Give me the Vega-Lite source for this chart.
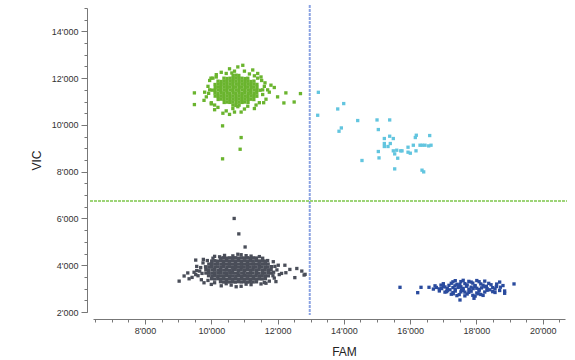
{
"$schema": "https://vega.github.io/schema/vega-lite/v6.json",
"width": 472, "height": 304,
"autosize": {"type": "none"},
"padding": {"left": 93, "top": 8, "right": 10, "bottom": 48},
"background": "white",
"config": {"view": {"stroke": null}, "axis": {"labelFont": "Liberation Sans", "titleFont": "Liberation Sans", "grid": false}},
"datasets": {
"famcut": [{"FAM": 12970}],
"viccut": [{"VIC": 6750}],
"drops": [
{"FAM":9835,"VIC":3812,"cl":"neg"},{"FAM":9915,"VIC":3789,"cl":"neg"},{"FAM":10018,"VIC":3805,"cl":"neg"},{"FAM":10094,"VIC":3818,"cl":"neg"},{"FAM":10197,"VIC":3786,"cl":"neg"},{"FAM":10276,"VIC":3809,"cl":"neg"},{"FAM":10374,"VIC":3792,"cl":"neg"},{"FAM":10455,"VIC":3815,"cl":"neg"},{"FAM":10553,"VIC":3784,"cl":"neg"},{"FAM":10646,"VIC":3806,"cl":"neg"},{"FAM":10724,"VIC":3821,"cl":"neg"},{"FAM":10826,"VIC":3790,"cl":"neg"},{"FAM":10905,"VIC":3811,"cl":"neg"},{"FAM":11006,"VIC":3783,"cl":"neg"},{"FAM":11087,"VIC":3816,"cl":"neg"},{"FAM":11184,"VIC":3794,"cl":"neg"},{"FAM":11266,"VIC":3813,"cl":"neg"},{"FAM":11364,"VIC":3787,"cl":"neg"},{"FAM":11446,"VIC":3819,"cl":"neg"},{"FAM":11545,"VIC":3791,"cl":"neg"},{"FAM":11627,"VIC":3810,"cl":"neg"},{"FAM":11725,"VIC":3785,"cl":"neg"},{"FAM":11806,"VIC":3814,"cl":"neg"},
{"FAM":9826,"VIC":3935,"cl":"neg"},{"FAM":9924,"VIC":3917,"cl":"neg"},{"FAM":10006,"VIC":3941,"cl":"neg"},{"FAM":10105,"VIC":3922,"cl":"neg"},{"FAM":10186,"VIC":3933,"cl":"neg"},{"FAM":10285,"VIC":3914,"cl":"neg"},{"FAM":10365,"VIC":3940,"cl":"neg"},{"FAM":10466,"VIC":3925,"cl":"neg"},{"FAM":10545,"VIC":3936,"cl":"neg"},{"FAM":10637,"VIC":3919,"cl":"neg"},{"FAM":10735,"VIC":3942,"cl":"neg"},{"FAM":10816,"VIC":3921,"cl":"neg"},{"FAM":10915,"VIC":3937,"cl":"neg"},{"FAM":10995,"VIC":3916,"cl":"neg"},{"FAM":11096,"VIC":3939,"cl":"neg"},{"FAM":11175,"VIC":3923,"cl":"neg"},{"FAM":11275,"VIC":3934,"cl":"neg"},{"FAM":11355,"VIC":3918,"cl":"neg"},{"FAM":11456,"VIC":3941,"cl":"neg"},{"FAM":11535,"VIC":3926,"cl":"neg"},{"FAM":11636,"VIC":3931,"cl":"neg"},{"FAM":11714,"VIC":3915,"cl":"neg"},{"FAM":11815,"VIC":3938,"cl":"neg"},
{"FAM":9837,"VIC":3665,"cl":"neg"},{"FAM":9917,"VIC":3684,"cl":"neg"},{"FAM":10014,"VIC":3661,"cl":"neg"},{"FAM":10096,"VIC":3679,"cl":"neg"},{"FAM":10195,"VIC":3666,"cl":"neg"},{"FAM":10274,"VIC":3683,"cl":"neg"},{"FAM":10376,"VIC":3660,"cl":"neg"},{"FAM":10457,"VIC":3677,"cl":"neg"},{"FAM":10555,"VIC":3664,"cl":"neg"},{"FAM":10635,"VIC":3686,"cl":"neg"},{"FAM":10733,"VIC":3663,"cl":"neg"},{"FAM":10814,"VIC":3680,"cl":"neg"},{"FAM":10917,"VIC":3667,"cl":"neg"},{"FAM":10993,"VIC":3685,"cl":"neg"},{"FAM":11094,"VIC":3662,"cl":"neg"},{"FAM":11186,"VIC":3678,"cl":"neg"},{"FAM":11264,"VIC":3669,"cl":"neg"},{"FAM":11366,"VIC":3684,"cl":"neg"},{"FAM":11444,"VIC":3661,"cl":"neg"},{"FAM":11547,"VIC":3676,"cl":"neg"},{"FAM":11625,"VIC":3668,"cl":"neg"},{"FAM":11727,"VIC":3682,"cl":"neg"},{"FAM":11808,"VIC":3665,"cl":"neg"},
{"FAM":9925,"VIC":4049,"cl":"neg"},{"FAM":10011,"VIC":4066,"cl":"neg"},{"FAM":10104,"VIC":4051,"cl":"neg"},{"FAM":10188,"VIC":4063,"cl":"neg"},{"FAM":10286,"VIC":4045,"cl":"neg"},{"FAM":10367,"VIC":4068,"cl":"neg"},{"FAM":10464,"VIC":4052,"cl":"neg"},{"FAM":10547,"VIC":4061,"cl":"neg"},{"FAM":10645,"VIC":4047,"cl":"neg"},{"FAM":10728,"VIC":4067,"cl":"neg"},{"FAM":10825,"VIC":4050,"cl":"neg"},{"FAM":10908,"VIC":4064,"cl":"neg"},{"FAM":11003,"VIC":4046,"cl":"neg"},{"FAM":11089,"VIC":4069,"cl":"neg"},{"FAM":11183,"VIC":4053,"cl":"neg"},{"FAM":11268,"VIC":4060,"cl":"neg"},{"FAM":11362,"VIC":4048,"cl":"neg"},{"FAM":11448,"VIC":4065,"cl":"neg"},{"FAM":11542,"VIC":4054,"cl":"neg"},{"FAM":11634,"VIC":4062,"cl":"neg"},{"FAM":11716,"VIC":4049,"cl":"neg"},
{"FAM":9916,"VIC":3551,"cl":"neg"},{"FAM":10015,"VIC":3536,"cl":"neg"},{"FAM":10098,"VIC":3555,"cl":"neg"},{"FAM":10193,"VIC":3539,"cl":"neg"},{"FAM":10278,"VIC":3549,"cl":"neg"},{"FAM":10373,"VIC":3533,"cl":"neg"},{"FAM":10456,"VIC":3556,"cl":"neg"},{"FAM":10552,"VIC":3540,"cl":"neg"},{"FAM":10639,"VIC":3548,"cl":"neg"},{"FAM":10736,"VIC":3535,"cl":"neg"},{"FAM":10818,"VIC":3553,"cl":"neg"},{"FAM":10912,"VIC":3538,"cl":"neg"},{"FAM":10997,"VIC":3557,"cl":"neg"},{"FAM":11092,"VIC":3541,"cl":"neg"},{"FAM":11178,"VIC":3550,"cl":"neg"},{"FAM":11274,"VIC":3534,"cl":"neg"},{"FAM":11357,"VIC":3554,"cl":"neg"},{"FAM":11452,"VIC":3537,"cl":"neg"},{"FAM":11538,"VIC":3552,"cl":"neg"},{"FAM":11631,"VIC":3543,"cl":"neg"},{"FAM":11723,"VIC":3547,"cl":"neg"},
{"FAM":10012,"VIC":4178,"cl":"neg"},{"FAM":10103,"VIC":4193,"cl":"neg"},{"FAM":10187,"VIC":4176,"cl":"neg"},{"FAM":10282,"VIC":4191,"cl":"neg"},{"FAM":10368,"VIC":4180,"cl":"neg"},{"FAM":10463,"VIC":4195,"cl":"neg"},{"FAM":10549,"VIC":4177,"cl":"neg"},{"FAM":10641,"VIC":4190,"cl":"neg"},{"FAM":10731,"VIC":4182,"cl":"neg"},{"FAM":10823,"VIC":4196,"cl":"neg"},{"FAM":10911,"VIC":4175,"cl":"neg"},{"FAM":11001,"VIC":4189,"cl":"neg"},{"FAM":11095,"VIC":4181,"cl":"neg"},{"FAM":11181,"VIC":4194,"cl":"neg"},{"FAM":11267,"VIC":4179,"cl":"neg"},{"FAM":11363,"VIC":4192,"cl":"neg"},{"FAM":11449,"VIC":4183,"cl":"neg"},{"FAM":11544,"VIC":4188,"cl":"neg"},{"FAM":11628,"VIC":4177,"cl":"neg"},
{"FAM":10009,"VIC":3423,"cl":"neg"},{"FAM":10101,"VIC":3408,"cl":"neg"},{"FAM":10194,"VIC":3425,"cl":"neg"},{"FAM":10279,"VIC":3410,"cl":"neg"},{"FAM":10371,"VIC":3421,"cl":"neg"},{"FAM":10458,"VIC":3405,"cl":"neg"},{"FAM":10551,"VIC":3427,"cl":"neg"},{"FAM":10644,"VIC":3411,"cl":"neg"},{"FAM":10729,"VIC":3420,"cl":"neg"},{"FAM":10821,"VIC":3406,"cl":"neg"},{"FAM":10916,"VIC":3426,"cl":"neg"},{"FAM":10999,"VIC":3412,"cl":"neg"},{"FAM":11091,"VIC":3422,"cl":"neg"},{"FAM":11185,"VIC":3407,"cl":"neg"},{"FAM":11271,"VIC":3424,"cl":"neg"},{"FAM":11359,"VIC":3409,"cl":"neg"},{"FAM":11451,"VIC":3419,"cl":"neg"},{"FAM":11539,"VIC":3413,"cl":"neg"},{"FAM":11633,"VIC":3425,"cl":"neg"},
{"FAM":10284,"VIC":4305,"cl":"neg"},{"FAM":10369,"VIC":4318,"cl":"neg"},{"FAM":10461,"VIC":4302,"cl":"neg"},{"FAM":10546,"VIC":4316,"cl":"neg"},{"FAM":10642,"VIC":4307,"cl":"neg"},{"FAM":10734,"VIC":4320,"cl":"neg"},{"FAM":10819,"VIC":4304,"cl":"neg"},{"FAM":10913,"VIC":4317,"cl":"neg"},{"FAM":11004,"VIC":4308,"cl":"neg"},{"FAM":11088,"VIC":4321,"cl":"neg"},{"FAM":11182,"VIC":4303,"cl":"neg"},{"FAM":11273,"VIC":4315,"cl":"neg"},{"FAM":11361,"VIC":4309,"cl":"neg"},
{"FAM":10277,"VIC":3295,"cl":"neg"},{"FAM":10372,"VIC":3281,"cl":"neg"},{"FAM":10459,"VIC":3297,"cl":"neg"},{"FAM":10554,"VIC":3283,"cl":"neg"},{"FAM":10638,"VIC":3292,"cl":"neg"},{"FAM":10726,"VIC":3279,"cl":"neg"},{"FAM":10824,"VIC":3296,"cl":"neg"},{"FAM":10906,"VIC":3284,"cl":"neg"},{"FAM":10996,"VIC":3293,"cl":"neg"},{"FAM":11097,"VIC":3280,"cl":"neg"},{"FAM":11176,"VIC":3298,"cl":"neg"},{"FAM":11265,"VIC":3285,"cl":"neg"},{"FAM":11365,"VIC":3291,"cl":"neg"},
{"FAM":9720,"VIC":3650,"cl":"neg"},{"FAM":9680,"VIC":3900,"cl":"neg"},{"FAM":9750,"VIC":4100,"cl":"neg"},{"FAM":9600,"VIC":3550,"cl":"neg"},{"FAM":9700,"VIC":3380,"cl":"neg"},{"FAM":9650,"VIC":3750,"cl":"neg"},{"FAM":9780,"VIC":3250,"cl":"neg"},{"FAM":9530,"VIC":3600,"cl":"neg"},{"FAM":9480,"VIC":3700,"cl":"neg"},{"FAM":9560,"VIC":3950,"cl":"neg"},{"FAM":9760,"VIC":4250,"cl":"neg"},{"FAM":9420,"VIC":3480,"cl":"neg"},
{"FAM":9030,"VIC":3320,"cl":"neg"},{"FAM":9180,"VIC":3540,"cl":"neg"},{"FAM":9290,"VIC":3670,"cl":"neg"},{"FAM":9330,"VIC":3420,"cl":"neg"},{"FAM":9530,"VIC":4220,"cl":"neg"},{"FAM":9560,"VIC":3770,"cl":"neg"},
{"FAM":10100,"VIC":4380,"cl":"neg"},{"FAM":10400,"VIC":4420,"cl":"neg"},{"FAM":10650,"VIC":4400,"cl":"neg"},{"FAM":10900,"VIC":4450,"cl":"neg"},{"FAM":11200,"VIC":4390,"cl":"neg"},{"FAM":11450,"VIC":4370,"cl":"neg"},{"FAM":10250,"VIC":4360,"cl":"neg"},{"FAM":11050,"VIC":4410,"cl":"neg"},{"FAM":10800,"VIC":4470,"cl":"neg"},
{"FAM":10000,"VIC":3180,"cl":"neg"},{"FAM":10300,"VIC":3120,"cl":"neg"},{"FAM":10600,"VIC":3150,"cl":"neg"},{"FAM":10900,"VIC":3100,"cl":"neg"},{"FAM":11200,"VIC":3170,"cl":"neg"},{"FAM":11500,"VIC":3200,"cl":"neg"},{"FAM":10450,"VIC":3210,"cl":"neg"},{"FAM":11050,"VIC":3190,"cl":"neg"},{"FAM":10750,"VIC":3080,"cl":"neg"},{"FAM":11650,"VIC":3230,"cl":"neg"},
{"FAM":11880,"VIC":3700,"cl":"neg"},{"FAM":11920,"VIC":3950,"cl":"neg"},{"FAM":11900,"VIC":3450,"cl":"neg"},{"FAM":11980,"VIC":3800,"cl":"neg"},{"FAM":12050,"VIC":3600,"cl":"neg"},{"FAM":11870,"VIC":4150,"cl":"neg"},{"FAM":11950,"VIC":3300,"cl":"neg"},{"FAM":12020,"VIC":4000,"cl":"neg"},{"FAM":11860,"VIC":3550,"cl":"neg"},
{"FAM":12220,"VIC":4000,"cl":"neg"},{"FAM":12370,"VIC":3820,"cl":"neg"},{"FAM":12580,"VIC":3860,"cl":"neg"},{"FAM":12830,"VIC":3610,"cl":"neg"},{"FAM":12520,"VIC":3470,"cl":"neg"},{"FAM":12120,"VIC":3650,"cl":"neg"},{"FAM":12250,"VIC":3680,"cl":"neg"},{"FAM":12730,"VIC":3750,"cl":"neg"},{"FAM":12800,"VIC":3580,"cl":"neg"},
{"FAM":9880,"VIC":4200,"cl":"neg"},{"FAM":9900,"VIC":3350,"cl":"neg"},{"FAM":11700,"VIC":4200,"cl":"neg"},{"FAM":11750,"VIC":3320,"cl":"neg"},{"FAM":10050,"VIC":4300,"cl":"neg"},{"FAM":11550,"VIC":4300,"cl":"neg"},{"FAM":10100,"VIC":3250,"cl":"neg"},{"FAM":11600,"VIC":3260,"cl":"neg"},
{"FAM":10690,"VIC":6000,"cl":"neg"},{"FAM":10830,"VIC":5340,"cl":"neg"},{"FAM":11020,"VIC":4780,"cl":"neg"},

{"FAM":10029,"VIC":11487,"cl":"vic"},{"FAM":10111,"VIC":11473,"cl":"vic"},{"FAM":10209,"VIC":11491,"cl":"vic"},{"FAM":10291,"VIC":11476,"cl":"vic"},{"FAM":10388,"VIC":11485,"cl":"vic"},{"FAM":10471,"VIC":11469,"cl":"vic"},{"FAM":10569,"VIC":11490,"cl":"vic"},{"FAM":10651,"VIC":11474,"cl":"vic"},{"FAM":10748,"VIC":11486,"cl":"vic"},{"FAM":10831,"VIC":11471,"cl":"vic"},{"FAM":10928,"VIC":11492,"cl":"vic"},{"FAM":11011,"VIC":11477,"cl":"vic"},{"FAM":11108,"VIC":11484,"cl":"vic"},{"FAM":11191,"VIC":11470,"cl":"vic"},{"FAM":11289,"VIC":11489,"cl":"vic"},{"FAM":11371,"VIC":11475,"cl":"vic"},{"FAM":11468,"VIC":11483,"cl":"vic"},
{"FAM":10118,"VIC":11601,"cl":"vic"},{"FAM":10211,"VIC":11617,"cl":"vic"},{"FAM":10292,"VIC":11603,"cl":"vic"},{"FAM":10389,"VIC":11615,"cl":"vic"},{"FAM":10478,"VIC":11598,"cl":"vic"},{"FAM":10562,"VIC":11619,"cl":"vic"},{"FAM":10658,"VIC":11604,"cl":"vic"},{"FAM":10741,"VIC":11614,"cl":"vic"},{"FAM":10838,"VIC":11599,"cl":"vic"},{"FAM":10921,"VIC":11618,"cl":"vic"},{"FAM":11018,"VIC":11605,"cl":"vic"},{"FAM":11102,"VIC":11613,"cl":"vic"},{"FAM":11198,"VIC":11600,"cl":"vic"},{"FAM":11282,"VIC":11616,"cl":"vic"},{"FAM":11379,"VIC":11606,"cl":"vic"},
{"FAM":10112,"VIC":11359,"cl":"vic"},{"FAM":10202,"VIC":11345,"cl":"vic"},{"FAM":10298,"VIC":11361,"cl":"vic"},{"FAM":10382,"VIC":11347,"cl":"vic"},{"FAM":10479,"VIC":11358,"cl":"vic"},{"FAM":10561,"VIC":11343,"cl":"vic"},{"FAM":10659,"VIC":11360,"cl":"vic"},{"FAM":10742,"VIC":11346,"cl":"vic"},{"FAM":10839,"VIC":11357,"cl":"vic"},{"FAM":10929,"VIC":11344,"cl":"vic"},{"FAM":11012,"VIC":11362,"cl":"vic"},{"FAM":11109,"VIC":11348,"cl":"vic"},{"FAM":11192,"VIC":11356,"cl":"vic"},{"FAM":11288,"VIC":11341,"cl":"vic"},{"FAM":11372,"VIC":11359,"cl":"vic"},
{"FAM":10113,"VIC":11729,"cl":"vic"},{"FAM":10208,"VIC":11744,"cl":"vic"},{"FAM":10294,"VIC":11731,"cl":"vic"},{"FAM":10386,"VIC":11742,"cl":"vic"},{"FAM":10473,"VIC":11727,"cl":"vic"},{"FAM":10567,"VIC":11745,"cl":"vic"},{"FAM":10652,"VIC":11730,"cl":"vic"},{"FAM":10749,"VIC":11741,"cl":"vic"},{"FAM":10833,"VIC":11726,"cl":"vic"},{"FAM":10927,"VIC":11743,"cl":"vic"},{"FAM":11014,"VIC":11732,"cl":"vic"},{"FAM":11106,"VIC":11740,"cl":"vic"},{"FAM":11194,"VIC":11728,"cl":"vic"},{"FAM":11286,"VIC":11746,"cl":"vic"},{"FAM":11377,"VIC":11733,"cl":"vic"},
{"FAM":10117,"VIC":11231,"cl":"vic"},{"FAM":10206,"VIC":11217,"cl":"vic"},{"FAM":10297,"VIC":11230,"cl":"vic"},{"FAM":10383,"VIC":11215,"cl":"vic"},{"FAM":10476,"VIC":11232,"cl":"vic"},{"FAM":10564,"VIC":11218,"cl":"vic"},{"FAM":10654,"VIC":11229,"cl":"vic"},{"FAM":10746,"VIC":11214,"cl":"vic"},{"FAM":10836,"VIC":11233,"cl":"vic"},{"FAM":10924,"VIC":11219,"cl":"vic"},{"FAM":11016,"VIC":11228,"cl":"vic"},{"FAM":11103,"VIC":11216,"cl":"vic"},{"FAM":11196,"VIC":11234,"cl":"vic"},{"FAM":11284,"VIC":11220,"cl":"vic"},{"FAM":11374,"VIC":11227,"cl":"vic"},
{"FAM":10203,"VIC":11871,"cl":"vic"},{"FAM":10296,"VIC":11857,"cl":"vic"},{"FAM":10387,"VIC":11869,"cl":"vic"},{"FAM":10472,"VIC":11855,"cl":"vic"},{"FAM":10568,"VIC":11872,"cl":"vic"},{"FAM":10653,"VIC":11858,"cl":"vic"},{"FAM":10744,"VIC":11868,"cl":"vic"},{"FAM":10837,"VIC":11854,"cl":"vic"},{"FAM":10926,"VIC":11870,"cl":"vic"},{"FAM":11017,"VIC":11859,"cl":"vic"},{"FAM":11104,"VIC":11867,"cl":"vic"},{"FAM":11197,"VIC":11856,"cl":"vic"},{"FAM":11287,"VIC":11873,"cl":"vic"},
{"FAM":10207,"VIC":11089,"cl":"vic"},{"FAM":10293,"VIC":11103,"cl":"vic"},{"FAM":10384,"VIC":11090,"cl":"vic"},{"FAM":10477,"VIC":11104,"cl":"vic"},{"FAM":10563,"VIC":11088,"cl":"vic"},{"FAM":10656,"VIC":11101,"cl":"vic"},{"FAM":10747,"VIC":11091,"cl":"vic"},{"FAM":10834,"VIC":11105,"cl":"vic"},{"FAM":10922,"VIC":11087,"cl":"vic"},{"FAM":11013,"VIC":11102,"cl":"vic"},{"FAM":11107,"VIC":11092,"cl":"vic"},{"FAM":11193,"VIC":11100,"cl":"vic"},{"FAM":11283,"VIC":11086,"cl":"vic"},
{"FAM":10381,"VIC":11999,"cl":"vic"},{"FAM":10474,"VIC":11985,"cl":"vic"},{"FAM":10566,"VIC":11997,"cl":"vic"},{"FAM":10657,"VIC":11984,"cl":"vic"},{"FAM":10743,"VIC":12000,"cl":"vic"},{"FAM":10832,"VIC":11986,"cl":"vic"},{"FAM":10923,"VIC":11998,"cl":"vic"},{"FAM":11019,"VIC":11983,"cl":"vic"},{"FAM":11101,"VIC":11996,"cl":"vic"},
{"FAM":10389,"VIC":10961,"cl":"vic"},{"FAM":10478,"VIC":10975,"cl":"vic"},{"FAM":10561,"VIC":10963,"cl":"vic"},{"FAM":10650,"VIC":10976,"cl":"vic"},{"FAM":10748,"VIC":10960,"cl":"vic"},{"FAM":10839,"VIC":10974,"cl":"vic"},{"FAM":10929,"VIC":10962,"cl":"vic"},{"FAM":11011,"VIC":10977,"cl":"vic"},{"FAM":11109,"VIC":10965,"cl":"vic"},
{"FAM":10658,"VIC":12113,"cl":"vic"},{"FAM":10745,"VIC":12127,"cl":"vic"},{"FAM":10831,"VIC":12115,"cl":"vic"},{"FAM":10652,"VIC":10847,"cl":"vic"},{"FAM":10741,"VIC":10833,"cl":"vic"},{"FAM":10838,"VIC":10846,"cl":"vic"},
{"FAM":10300,"VIC":12250,"cl":"vic"},{"FAM":10550,"VIC":12400,"cl":"vic"},{"FAM":10800,"VIC":12480,"cl":"vic"},{"FAM":11000,"VIC":12300,"cl":"vic"},{"FAM":11250,"VIC":12350,"cl":"vic"},{"FAM":10450,"VIC":12200,"cl":"vic"},{"FAM":10950,"VIC":12550,"cl":"vic"},{"FAM":11400,"VIC":12200,"cl":"vic"},{"FAM":10150,"VIC":12150,"cl":"vic"},{"FAM":10700,"VIC":12300,"cl":"vic"},{"FAM":11150,"VIC":12180,"cl":"vic"},{"FAM":10620,"VIC":12220,"cl":"vic"},
{"FAM":10200,"VIC":10750,"cl":"vic"},{"FAM":10450,"VIC":10600,"cl":"vic"},{"FAM":10650,"VIC":10700,"cl":"vic"},{"FAM":10900,"VIC":10550,"cl":"vic"},{"FAM":11100,"VIC":10800,"cl":"vic"},{"FAM":10350,"VIC":10500,"cl":"vic"},{"FAM":10800,"VIC":10780,"cl":"vic"},{"FAM":11300,"VIC":10700,"cl":"vic"},{"FAM":10550,"VIC":10450,"cl":"vic"},{"FAM":11000,"VIC":10680,"cl":"vic"},{"FAM":10100,"VIC":10650,"cl":"vic"},{"FAM":10700,"VIC":10550,"cl":"vic"},
{"FAM":9800,"VIC":11400,"cl":"vic"},{"FAM":9900,"VIC":11650,"cl":"vic"},{"FAM":9850,"VIC":11200,"cl":"vic"},{"FAM":9950,"VIC":11900,"cl":"vic"},{"FAM":9780,"VIC":11050,"cl":"vic"},{"FAM":9920,"VIC":11350,"cl":"vic"},{"FAM":10000,"VIC":10900,"cl":"vic"},{"FAM":9990,"VIC":12000,"cl":"vic"},
{"FAM":11550,"VIC":11300,"cl":"vic"},{"FAM":11600,"VIC":11650,"cl":"vic"},{"FAM":11700,"VIC":11500,"cl":"vic"},{"FAM":11520,"VIC":11900,"cl":"vic"},{"FAM":11650,"VIC":11100,"cl":"vic"},{"FAM":11750,"VIC":11400,"cl":"vic"},{"FAM":11580,"VIC":10950,"cl":"vic"},{"FAM":11500,"VIC":12050,"cl":"vic"},{"FAM":11800,"VIC":11700,"cl":"vic"},{"FAM":11620,"VIC":11800,"cl":"vic"},
{"FAM":10050,"VIC":12000,"cl":"vic"},{"FAM":11400,"VIC":12000,"cl":"vic"},{"FAM":10000,"VIC":10950,"cl":"vic"},{"FAM":11450,"VIC":10950,"cl":"vic"},{"FAM":10150,"VIC":12050,"cl":"vic"},{"FAM":11350,"VIC":10850,"cl":"vic"},{"FAM":10100,"VIC":10850,"cl":"vic"},{"FAM":11300,"VIC":12100,"cl":"vic"},{"FAM":11550,"VIC":11500,"cl":"vic"},{"FAM":9950,"VIC":11500,"cl":"vic"},
{"FAM":9490,"VIC":11370,"cl":"vic"},{"FAM":9490,"VIC":10870,"cl":"vic"},{"FAM":10340,"VIC":9960,"cl":"vic"},{"FAM":10900,"VIC":9460,"cl":"vic"},{"FAM":10870,"VIC":8960,"cl":"vic"},{"FAM":10340,"VIC":8550,"cl":"vic"},{"FAM":12250,"VIC":11370,"cl":"vic"},{"FAM":12690,"VIC":11340,"cl":"vic"},{"FAM":12500,"VIC":10980,"cl":"vic"},{"FAM":12190,"VIC":10940,"cl":"vic"},{"FAM":11900,"VIC":11600,"cl":"vic"},{"FAM":12000,"VIC":11200,"cl":"vic"},

{"FAM":16790,"VIC":3050,"cl":"fam"},{"FAM":16880,"VIC":2990,"cl":"fam"},{"FAM":17050,"VIC":3071,"cl":"fam"},{"FAM":17120,"VIC":3002,"cl":"fam"},{"FAM":17290,"VIC":3045,"cl":"fam"},{"FAM":17360,"VIC":2968,"cl":"fam"},{"FAM":17530,"VIC":3080,"cl":"fam"},{"FAM":17600,"VIC":3010,"cl":"fam"},{"FAM":17770,"VIC":2975,"cl":"fam"},{"FAM":17840,"VIC":3062,"cl":"fam"},{"FAM":18010,"VIC":3015,"cl":"fam"},{"FAM":18080,"VIC":2960,"cl":"fam"},{"FAM":18250,"VIC":3078,"cl":"fam"},{"FAM":18320,"VIC":3000,"cl":"fam"},{"FAM":18490,"VIC":3040,"cl":"fam"},{"FAM":18560,"VIC":2985,"cl":"fam"},{"FAM":18720,"VIC":3060,"cl":"fam"},
{"FAM":16930,"VIC":3150,"cl":"fam"},{"FAM":17000,"VIC":3210,"cl":"fam"},{"FAM":17170,"VIC":3140,"cl":"fam"},{"FAM":17240,"VIC":3230,"cl":"fam"},{"FAM":17410,"VIC":3185,"cl":"fam"},{"FAM":17480,"VIC":3120,"cl":"fam"},{"FAM":17650,"VIC":3215,"cl":"fam"},{"FAM":17720,"VIC":3160,"cl":"fam"},{"FAM":17890,"VIC":3235,"cl":"fam"},{"FAM":17960,"VIC":3130,"cl":"fam"},{"FAM":18130,"VIC":3200,"cl":"fam"},{"FAM":18200,"VIC":3145,"cl":"fam"},{"FAM":18370,"VIC":3225,"cl":"fam"},{"FAM":18440,"VIC":3165,"cl":"fam"},{"FAM":18610,"VIC":3195,"cl":"fam"},
{"FAM":16880,"VIC":2900,"cl":"fam"},{"FAM":17050,"VIC":2850,"cl":"fam"},{"FAM":17120,"VIC":2920,"cl":"fam"},{"FAM":17290,"VIC":2830,"cl":"fam"},{"FAM":17360,"VIC":2895,"cl":"fam"},{"FAM":17530,"VIC":2860,"cl":"fam"},{"FAM":17600,"VIC":2925,"cl":"fam"},{"FAM":17770,"VIC":2840,"cl":"fam"},{"FAM":17840,"VIC":2890,"cl":"fam"},{"FAM":18010,"VIC":2815,"cl":"fam"},{"FAM":18080,"VIC":2905,"cl":"fam"},{"FAM":18250,"VIC":2855,"cl":"fam"},{"FAM":18320,"VIC":2930,"cl":"fam"},{"FAM":18490,"VIC":2870,"cl":"fam"},{"FAM":18560,"VIC":2835,"cl":"fam"},
{"FAM":17290,"VIC":3290,"cl":"fam"},{"FAM":17360,"VIC":3340,"cl":"fam"},{"FAM":17530,"VIC":3300,"cl":"fam"},{"FAM":17600,"VIC":3355,"cl":"fam"},{"FAM":17770,"VIC":3310,"cl":"fam"},{"FAM":17840,"VIC":3280,"cl":"fam"},{"FAM":18010,"VIC":3345,"cl":"fam"},{"FAM":18080,"VIC":3295,"cl":"fam"},{"FAM":18250,"VIC":3320,"cl":"fam"},
{"FAM":17240,"VIC":2760,"cl":"fam"},{"FAM":17410,"VIC":2700,"cl":"fam"},{"FAM":17480,"VIC":2745,"cl":"fam"},{"FAM":17650,"VIC":2690,"cl":"fam"},{"FAM":17720,"VIC":2770,"cl":"fam"},{"FAM":17890,"VIC":2715,"cl":"fam"},{"FAM":17960,"VIC":2680,"cl":"fam"},{"FAM":18130,"VIC":2750,"cl":"fam"},{"FAM":18200,"VIC":2710,"cl":"fam"},
{"FAM":17000,"VIC":3100,"cl":"fam"},{"FAM":17200,"VIC":2950,"cl":"fam"},{"FAM":17450,"VIC":3050,"cl":"fam"},{"FAM":17550,"VIC":2950,"cl":"fam"},{"FAM":17700,"VIC":3100,"cl":"fam"},{"FAM":17800,"VIC":2930,"cl":"fam"},{"FAM":17950,"VIC":3090,"cl":"fam"},{"FAM":18150,"VIC":3030,"cl":"fam"},{"FAM":18400,"VIC":2950,"cl":"fam"},{"FAM":17100,"VIC":2870,"cl":"fam"},{"FAM":17350,"VIC":3120,"cl":"fam"},{"FAM":17650,"VIC":2850,"cl":"fam"},{"FAM":17900,"VIC":3000,"cl":"fam"},{"FAM":18300,"VIC":3100,"cl":"fam"},{"FAM":17500,"VIC":3180,"cl":"fam"},{"FAM":17300,"VIC":2780,"cl":"fam"},{"FAM":18050,"VIC":2780,"cl":"fam"},{"FAM":16950,"VIC":3000,"cl":"fam"},{"FAM":18600,"VIC":3090,"cl":"fam"},{"FAM":18700,"VIC":2920,"cl":"fam"},{"FAM":18800,"VIC":3130,"cl":"fam"},{"FAM":18850,"VIC":2900,"cl":"fam"},{"FAM":16750,"VIC":3120,"cl":"fam"},{"FAM":16700,"VIC":2980,"cl":"fam"},
{"FAM":15693,"VIC":3056,"cl":"fam"},{"FAM":16227,"VIC":2826,"cl":"fam"},{"FAM":16327,"VIC":3056,"cl":"fam"},{"FAM":16568,"VIC":3056,"cl":"fam"},{"FAM":19133,"VIC":3200,"cl":"fam"},{"FAM":17503,"VIC":2514,"cl":"fam"},{"FAM":17926,"VIC":2586,"cl":"fam"},{"FAM":18850,"VIC":2800,"cl":"fam"},{"FAM":18700,"VIC":3280,"cl":"fam"},

{"FAM":13230,"VIC":11395,"cl":"both"},{"FAM":13210,"VIC":10413,"cl":"both"},{"FAM":13995,"VIC":10913,"cl":"both"},{"FAM":13814,"VIC":10682,"cl":"both"},{"FAM":14417,"VIC":10187,"cl":"both"},{"FAM":13923,"VIC":9871,"cl":"both"},{"FAM":13853,"VIC":9730,"cl":"both"},{"FAM":15000,"VIC":10213,"cl":"both"},{"FAM":15382,"VIC":10213,"cl":"both"},{"FAM":15039,"VIC":9802,"cl":"both"},{"FAM":15220,"VIC":9418,"cl":"both"},{"FAM":15382,"VIC":9517,"cl":"both"},{"FAM":15491,"VIC":9418,"cl":"both"},{"FAM":15220,"VIC":9205,"cl":"both"},{"FAM":15400,"VIC":9205,"cl":"both"},{"FAM":15220,"VIC":9077,"cl":"both"},{"FAM":15331,"VIC":9077,"cl":"both"},{"FAM":15039,"VIC":8863,"cl":"both"},{"FAM":15060,"VIC":8590,"cl":"both"},{"FAM":14546,"VIC":8479,"cl":"both"},{"FAM":15491,"VIC":8892,"cl":"both"},{"FAM":15594,"VIC":8919,"cl":"both"},{"FAM":15533,"VIC":8761,"cl":"both"},{"FAM":15715,"VIC":8892,"cl":"both"},{"FAM":15624,"VIC":8577,"cl":"both"},{"FAM":15754,"VIC":8892,"cl":"both"},{"FAM":15935,"VIC":9047,"cl":"both"},{"FAM":15935,"VIC":8833,"cl":"both"},{"FAM":16004,"VIC":8791,"cl":"both"},{"FAM":16095,"VIC":9132,"cl":"both"},{"FAM":16155,"VIC":9461,"cl":"both"},{"FAM":16185,"VIC":9559,"cl":"both"},{"FAM":16176,"VIC":8892,"cl":"both"},{"FAM":16297,"VIC":9132,"cl":"both"},{"FAM":16366,"VIC":9132,"cl":"both"},{"FAM":16448,"VIC":9132,"cl":"both"},{"FAM":16559,"VIC":9103,"cl":"both"},{"FAM":16629,"VIC":9132,"cl":"both"},{"FAM":16589,"VIC":9546,"cl":"both"},{"FAM":15533,"VIC":8120,"cl":"both"},{"FAM":16357,"VIC":8065,"cl":"both"},{"FAM":16408,"VIC":7992,"cl":"both"}
]
},
"layer": [
{
"data": {"name": "drops"},
"mark": {"type": "point", "shape": "square", "filled": true, "size": 11, "opacity": 1, "strokeWidth": 0},
"encoding": {
"x": {"field": "FAM", "type": "quantitative", "scale": {"domain": [6431, 20671], "nice": false, "zero": false},
"axis": {"orient": "bottom", "offset": 7, "values": [8000, 10000, 12000, 14000, 16000, 18000, 20000], "labelExpr": "replace(format(datum.value, ','), ',', \"'\")", "labelFontSize": 9, "labelColor": "#333333", "labelPadding": 2, "tickSize": 5, "tickColor": "#777777", "domainColor": "#777777", "title": "FAM", "titleFontSize": 12, "titleFontWeight": "normal", "titleColor": "#222222", "titleX": 251, "titleY": 27, "titleBaseline": "top"}},
"y": {"field": "VIC", "type": "quantitative", "scale": {"domain": [2000, 15000], "nice": false, "zero": false},
"axis": {"orient": "left", "offset": 6, "values": [2000, 4000, 6000, 8000, 10000, 12000, 14000], "labelExpr": "replace(format(datum.value, ','), ',', \"'\")", "labelFontSize": 9, "labelColor": "#333333", "labelPadding": 3, "tickSize": 6, "tickColor": "#777777", "domainColor": "#777777", "title": "VIC", "titleFontSize": 12, "titleFontWeight": "normal", "titleColor": "#222222", "titlePadding": 8}},
"color": {"field": "cl", "type": "nominal", "scale": {"domain": ["neg", "vic", "fam", "both"], "range": ["#4a4e59", "#6ab42e", "#2a4b9e", "#62c5df"]}, "legend": null}
}
},
{
"data": {"name": "famcut"},
"mark": {"type": "rule", "color": "#8aa2e2", "strokeWidth": 2, "strokeDash": [3, 1]},
"encoding": {
"x": {"field": "FAM", "type": "quantitative", "scale": {"domain": [6431, 20671], "nice": false, "zero": false},
"axis": {"orient": "bottom", "offset": 7, "values": [6500, 7000, 7500, 8000, 8500, 9000, 9500, 10000, 10500, 11000, 11500, 12000, 12500, 13000, 13500, 14000, 14500, 15000, 15500, 16000, 16500, 17000, 17500, 18000, 18500, 19000, 19500, 20000, 20500], "labels": false, "domain": false, "tickSize": 3, "tickColor": "#777777", "title": null}},
"y": {"datum": 15128, "type": "quantitative", "scale": {"domain": [2000, 15000], "nice": false, "zero": false}, "axis": null},
"y2": {"datum": 1872}
}
},
{
"data": {"name": "viccut"},
"mark": {"type": "rule", "color": "#9dd477", "strokeWidth": 2, "strokeDash": [3, 1]},
"encoding": {
"y": {"field": "VIC", "type": "quantitative", "scale": {"domain": [2000, 15000], "nice": false, "zero": false},
"axis": {"orient": "left", "offset": 6, "values": [2000, 2500, 3000, 3500, 4000, 4500, 5000, 5500, 6000, 6500, 7000, 7500, 8000, 8500, 9000, 9500, 10000, 10500, 11000, 11500, 12000, 12500, 13000, 13500, 14000, 14500, 15000], "labels": false, "domain": false, "tickSize": 3, "tickColor": "#777777", "title": null}},
"x": {"datum": 6340, "type": "quantitative", "scale": {"domain": [6431, 20671], "nice": false, "zero": false}, "axis": null},
"x2": {"datum": 20730}
}
}
],
"resolve": {"axis": {"x": "independent", "y": "independent"}}
}
